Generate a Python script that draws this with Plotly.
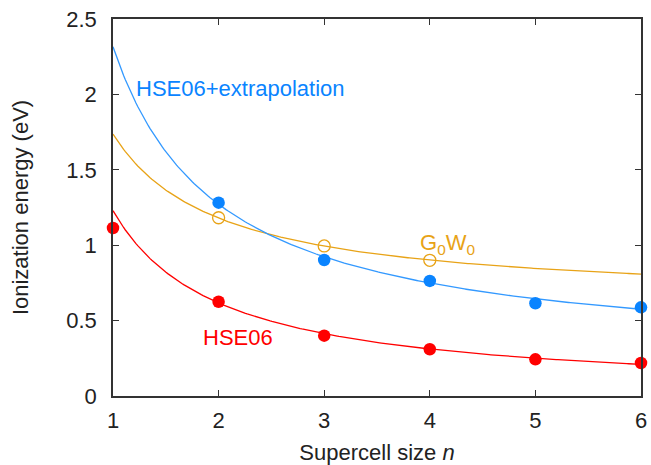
import numpy as np
import plotly.graph_objects as go

# Data
n_hse = [1, 2, 3, 4, 5, 6]
ie_hse = [1.114, 0.625, 0.40, 0.31, 0.243, 0.219]

n_extrap = [2, 3, 4, 5, 6]
ie_extrap = [1.282, 0.902, 0.763, 0.615, 0.588]

n_gw = [2, 3, 4]
ie_gw = [1.182, 0.995, 0.90]

# Fit curves of the form a + b/n (coefficients)
fit_hse = (0.006, 1.223)
fit_extrap = (0.227, 2.089)
fit_gw = (0.623, 1.114)

RED = "#ff0000"
BLUE = "#0a84ff"
BLUE_LINE = "#3399ff"
ORANGE = "#e8a317"
FONT = "Liberation Sans, Arial, sans-serif"
FS = 22

nn = np.linspace(1, 6, 300)

fig = go.Figure()

def curve(coef, color):
    a, b = coef
    fig.add_trace(go.Scatter(x=nn, y=a + b / nn, mode="lines",
                             line=dict(color=color, width=1.3),
                             hoverinfo="skip", showlegend=False))

curve(fit_gw, ORANGE)
curve(fit_extrap, BLUE_LINE)
curve(fit_hse, RED)

fig.add_trace(go.Scatter(x=n_gw, y=ie_gw, mode="markers",
                         marker=dict(symbol="circle-open", size=12, color=ORANGE,
                                     line=dict(width=1.3, color=ORANGE)),
                         showlegend=False, cliponaxis=False))
fig.add_trace(go.Scatter(x=n_extrap, y=ie_extrap, mode="markers",
                         marker=dict(size=12.5, color=BLUE),
                         showlegend=False, cliponaxis=False))
fig.add_trace(go.Scatter(x=n_hse, y=ie_hse, mode="markers",
                         marker=dict(size=12.5, color=RED),
                         showlegend=False, cliponaxis=False))

fig.add_annotation(x=1.2, y=2.04, text="HSE06+extrapolation", showarrow=False,
                   xanchor="left", yanchor="middle",
                   font=dict(color=BLUE, size=FS, family=FONT))
fig.add_annotation(x=3.89, y=1.01, text="G<sub>0</sub>W<sub>0</sub>", showarrow=False,
                   xanchor="left", yanchor="middle",
                   font=dict(color=ORANGE, size=FS, family=FONT))
fig.add_annotation(x=2.185, y=0.385, text="HSE06", showarrow=False,
                   xanchor="center", yanchor="middle",
                   font=dict(color=RED, size=FS, family=FONT))

axis_common = dict(showline=True, linecolor="#333333", linewidth=1.5, mirror="ticks",
                   ticks="inside", ticklen=6, tickwidth=1, tickcolor="#333333",
                   showgrid=False, zeroline=False, automargin=False,
                   tickfont=dict(size=FS, family=FONT, color="#222222"))

fig.update_xaxes(range=[1, 6], tickvals=[1, 2, 3, 4, 5, 6],
                 title=dict(text="Supercell size <i>n</i>", font=dict(size=FS, family=FONT, color="#222222"), standoff=13),
                 ticklabelstandoff=4, **axis_common)
fig.update_yaxes(range=[0, 2.5], tickvals=[0, 0.5, 1, 1.5, 2, 2.5],
                 ticktext=["0", "0.5", "1", "1.5", "2", "2.5"],
                 title=dict(text="Ionization energy (eV)", font=dict(size=FS, family=FONT, color="#222222"), standoff=32),
                 ticklabelstandoff=10, **axis_common)

fig.update_layout(width=651, height=465,
                  margin=dict(l=113, r=10, t=19, b=69),
                  paper_bgcolor="white", plot_bgcolor="white",
                  showlegend=False)

fig.write_html("out.html")
